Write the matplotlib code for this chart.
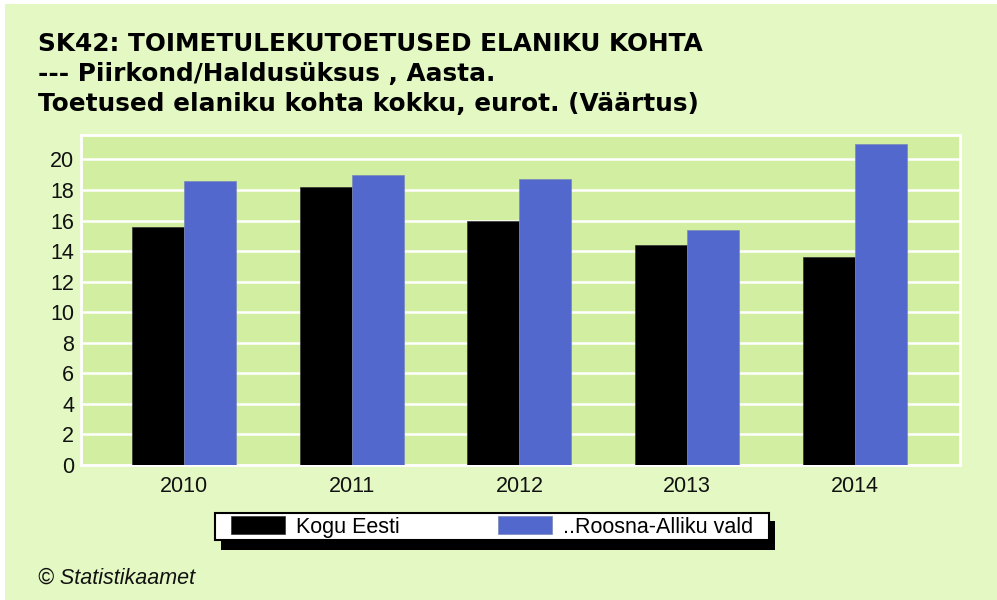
import matplotlib
matplotlib.use("Agg")
import matplotlib.pyplot as plt
import numpy as np

years = ["2010", "2011", "2012", "2013", "2014"]
kogu_eesti = [15.6, 18.2, 16.0, 14.4, 13.6]
roosna_alliku = [18.6, 19.0, 18.7, 15.4, 21.0]
series_names = ["Kogu Eesti", "..Roosna-Alliku vald"]
yticks = list(range(0, 21, 2))
title_lines = ["SK42: TOIMETULEKUTOETUSED ELANIKU KOHTA",
               "--- Piirkond/Haldusüksus , Aasta.",
               "Toetused elaniku kohta kokku, eurot. (Väärtus)"]

plt.rcParams['font.family'] = ['Liberation Sans', 'DejaVu Sans']

W, H = 997, 600
fig = plt.figure(figsize=(W / 100, H / 100), dpi=100)
fig.patch.set_facecolor('#e3f8c3')


def px_rect(x0, y0, x1, y1, **kw):
    """Rectangle in figure pixel coords measured from top-left."""
    r = plt.Rectangle((x0 / W, 1 - y1 / H), (x1 - x0) / W, (y1 - y0) / H,
                      transform=fig.transFigure, **kw)
    fig.patches.append(r)
    return r


# white strips at top and left edge
px_rect(0, 0, W, 4, facecolor='white', edgecolor='none')
px_rect(0, 0, 5, H, facecolor='white', edgecolor='none')

ax = fig.add_axes([81 / W, (H - 465) / H, (960 - 81) / W, (465 - 135) / H])
ax.set_facecolor('#d2eea0')

x = np.arange(len(years))
bw = 0.31
ax.bar(x - bw / 2, kogu_eesti, bw, color='black', edgecolor='#333333', linewidth=0.5,
       label=series_names[0], zorder=3)
ax.bar(x + bw / 2, roosna_alliku, bw, color='#5268cc', edgecolor='#7a88b8', linewidth=0.5,
       label=series_names[1], zorder=3)

ax.set_xlim(-0.614, 4.626)
ax.set_ylim(0, 21.6)
ax.set_yticks(yticks)
ax.set_yticklabels([str(v) for v in yticks])
ax.set_xticks(x)
ax.set_xticklabels(years)
ax.tick_params(axis='both', length=0, labelsize=15.5, colors='#111111')
ax.tick_params(axis='y', pad=5)
ax.tick_params(axis='x', pad=8)
ax.yaxis.grid(True, color='white', linewidth=1.8, zorder=1)
ax.set_axisbelow(True)
for s in ax.spines.values():
    s.set_color('white')
    s.set_linewidth(2)

for i, line in enumerate(title_lines):
    fig.text(38 / W, 1 - (44 + 30 * i) / H, line, fontsize=17.8, fontweight='bold',
             family=['DejaVu Sans'], va='center', ha='left', color='black')

# legend box with hard shadow
px_rect(221, 521, 775, 550, facecolor='black', edgecolor='none', zorder=1)
px_rect(215, 513, 769, 540, facecolor='white', edgecolor='black', linewidth=1.5, zorder=2)

handles, labels = ax.get_legend_handles_labels()
leg = fig.legend(handles, labels, loc='center', bbox_to_anchor=(492 / W, 1 - 527 / H),
                 ncol=2, fontsize=15.5, handlelength=2.5, handleheight=0.85,
                 handletextpad=0.5, columnspacing=4.6, borderpad=0.2,
                 frameon=False)
leg.set_zorder(5)

fig.text(38 / W, 1 - 578 / H, "© Statistikaamet", fontsize=15.5, style='italic',
         va='center', ha='left', color='#111111')

fig.savefig("out.png", dpi=100, facecolor=fig.get_facecolor())
